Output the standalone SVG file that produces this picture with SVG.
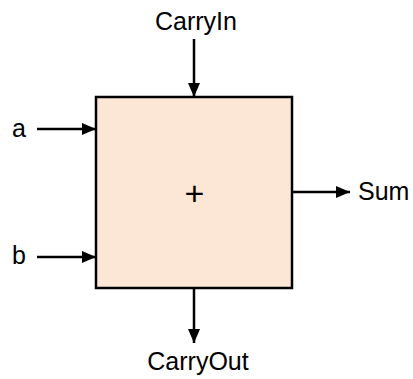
<svg xmlns="http://www.w3.org/2000/svg" width="413" height="379" viewBox="0 0 413 379">
<style>
text{font-family:"Liberation Sans",Arial,sans-serif;font-size:25px;fill:#000}
.c{stroke:#000;stroke-width:2.5;fill:none}
</style>
<defs>
<marker id="ah" markerUnits="userSpaceOnUse" markerWidth="14" markerHeight="12" refX="14" refY="6" orient="auto">
<path d="M0,0 L14,6 L0,12 Z" fill="#000"/>
</marker>
</defs>
<g id="adder">
<rect x="96" y="97" width="196" height="191" fill="#FCE7D6" stroke="#000" stroke-width="2.5"/>
<text x="194.5" y="205" text-anchor="middle" style="font-size:34px">+</text>
</g>
<g id="carryin"><text x="196" y="30" text-anchor="middle">CarryIn</text></g>
<g id="a"><text x="12" y="137">a</text></g>
<g id="b"><text x="12" y="264">b</text></g>
<g id="sum"><text x="358" y="200">Sum</text></g>
<g id="carryout"><text x="198" y="370" text-anchor="middle">CarryOut</text></g>
<g id="connectors">
<line class="c" x1="194" y1="39" x2="194" y2="97" marker-end="url(#ah)"/>
<line class="c" x1="37" y1="129" x2="96" y2="129" marker-end="url(#ah)"/>
<line class="c" x1="37" y1="257" x2="96" y2="257" marker-end="url(#ah)"/>
<line class="c" x1="292" y1="192" x2="350" y2="192" marker-end="url(#ah)"/>
<line class="c" x1="194" y1="288" x2="194" y2="343" marker-end="url(#ah)"/>
</g>
</svg>
